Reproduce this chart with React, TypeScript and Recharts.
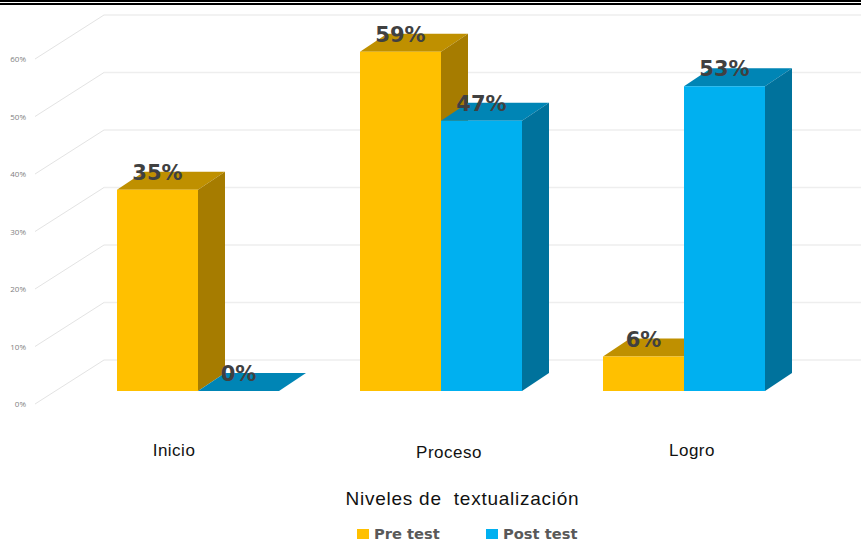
import { BarChart, Bar, XAxis, YAxis, Legend, LabelList, CartesianGrid } from 'recharts';

const categories = ['Inicio', 'Proceso', 'Logro'];
const preTest = [35, 59, 6];
const postTest = [0, 47, 53];
const percentTicks = [0, 10, 20, 30, 40, 50, 60];
const axisTitle = 'Niveles de  textualización';

const chartData = categories.map((name, i) => ({
  name,
  'Pre test': preTest[i],
  'Post test': postTest[i],
}));

// fake 3D: how far the back wall and the side faces sit from the front plane
const DEPTH_X = 27;
const DEPTH_Y = 18;
const WALL_LIFT = 31;
const LABEL_DROP = 13;
const WALL_LEFT = 104;
const TICK_LEFT = 35;

// category labels are not quite centred under their groups
const categoryNudge = [-23.5, 8.5, 8.5];

const Box3D = (props: any) => {
  const { x, y, width, height, front, top, side } = props;
  const r = x + width;
  const b = y + height;
  return (
    <g>
      <polygon
        points={`${x},${y} ${x + DEPTH_X},${y - DEPTH_Y} ${r + DEPTH_X},${y - DEPTH_Y} ${r},${y}`}
        fill={top}
      />
      {height > 0 && (
        <>
          <polygon
            points={`${r},${y} ${r + DEPTH_X},${y - DEPTH_Y} ${r + DEPTH_X},${b - DEPTH_Y} ${r},${b}`}
            fill={side}
          />
          <rect x={x} y={y} width={width} height={height} fill={front} />
        </>
      )}
    </g>
  );
};

// wall gridline plus the diagonal running down to the tick label
const wallLine = (props: any) => {
  const { y1: y, index } = props;
  const wallY = y - WALL_LIFT;
  return (
    <g key={`wall-${index}`}>
      <line x1={TICK_LEFT} y1={y + LABEL_DROP} x2={WALL_LEFT} y2={wallY} stroke="#e3e3e3" strokeWidth={1} />
      <line x1={WALL_LEFT} y1={wallY} x2={861} y2={wallY} stroke="#eeeeee" strokeWidth={1.5} />
    </g>
  );
};

const PercentTick = (props: any) => {
  const { y, payload } = props;
  return (
    <text
      x={26}
      y={y + LABEL_DROP + 3}
      textAnchor="end"
      fill="#7f7f7f"
      style={{ fontSize: 8, fontFamily: 'Open Sans' }}
    >
      {payload.value}%
    </text>
  );
};

const CategoryTick = (props: any) => {
  const { x, payload, index } = props;
  return (
    <text
      x={x + categoryNudge[index]}
      y={index === 1 ? 458 : 456}
      textAnchor="middle"
      fill="#111111"
      style={{ fontSize: 17, letterSpacing: 0.5, fontFamily: 'Liberation Sans' }}
    >
      {payload.value}
    </text>
  );
};

const TitleLabel = () => (
  <text
    x={462.5}
    y={505}
    textAnchor="middle"
    fill="#111111"
    style={{ fontSize: 19, letterSpacing: 0.75, fontFamily: 'Liberation Sans', whiteSpace: 'pre' }}
  >
    {axisTitle}
  </text>
);

const LegendRow = ({ payload }: any) => (
  <div style={{ position: 'relative', height: 20 }}>
    {payload.map((entry: any, i: number) => (
      <span
        key={entry.value}
        style={{
          position: 'absolute',
          left: i === 0 ? 357 : 486,
          top: 3,
          display: 'flex',
          alignItems: 'center',
          whiteSpace: 'nowrap',
          fontFamily: 'DejaVu Sans',
          fontWeight: 700,
          fontSize: 14.7,
          lineHeight: '16px',
          color: '#595959',
        }}
      >
        <span style={{ width: 12, height: 10, background: entry.color, marginRight: 5 }} />
        {entry.value}
      </span>
    ))}
  </div>
);

const valueLabel = (props: any) => {
  const { x, y, width, value } = props;
  return (
    <text
      x={x + width / 2}
      y={y - 10}
      textAnchor="middle"
      fill="#404040"
      style={{ fontSize: 21, fontWeight: 700, fontFamily: 'DejaVu Sans' }}
    >
      {value}%
    </text>
  );
};

export default function App() {
  return (
    <div style={{ position: 'absolute', left: 0, top: 0, width: 861, height: 543, background: '#ffffff', overflow: 'hidden' }}>
      {/* double rule across the top of the page */}
      <div style={{ position: 'absolute', left: 0, top: 0, width: 861, height: 2, background: '#000000' }} />
      <div style={{ position: 'absolute', left: 0, top: 3, width: 861, height: 2, background: '#000000' }} />
      <BarChart
        width={861}
        height={543}
        data={chartData}
        barSize={81}
        barGap={0}
        margin={{ top: 46, right: 56, bottom: 72, left: 0 }}
      >
        <CartesianGrid vertical={false} horizontal={wallLine} />
        <YAxis
          width={76}
          domain={[0, 60]}
          ticks={percentTicks}
          axisLine={false}
          tickLine={false}
          tick={<PercentTick />}
          interval={0}
        />
        <XAxis
          dataKey="name"
          height={60}
          axisLine={false}
          tickLine={false}
          tick={<CategoryTick />}
          label={<TitleLabel />}
        />
        <Legend
          verticalAlign="bottom"
          itemSorter={null}
          content={<LegendRow />}
          wrapperStyle={{ left: 0, width: 861, bottom: 0, height: 20 }}
        />
        <Bar
          dataKey="Pre test"
          fill="#FFC000"
          isAnimationActive={false}
          shape={<Box3D front="#FFC000" top="#BF9000" side="#A67C00" />}
        >
          <LabelList dataKey="Pre test" content={valueLabel} />
        </Bar>
        <Bar
          dataKey="Post test"
          fill="#00B0F0"
          isAnimationActive={false}
          shape={<Box3D front="#00B0F0" top="#0085B5" side="#00729C" />}
        >
          <LabelList dataKey="Post test" content={valueLabel} />
        </Bar>
      </BarChart>
    </div>
  );
}
